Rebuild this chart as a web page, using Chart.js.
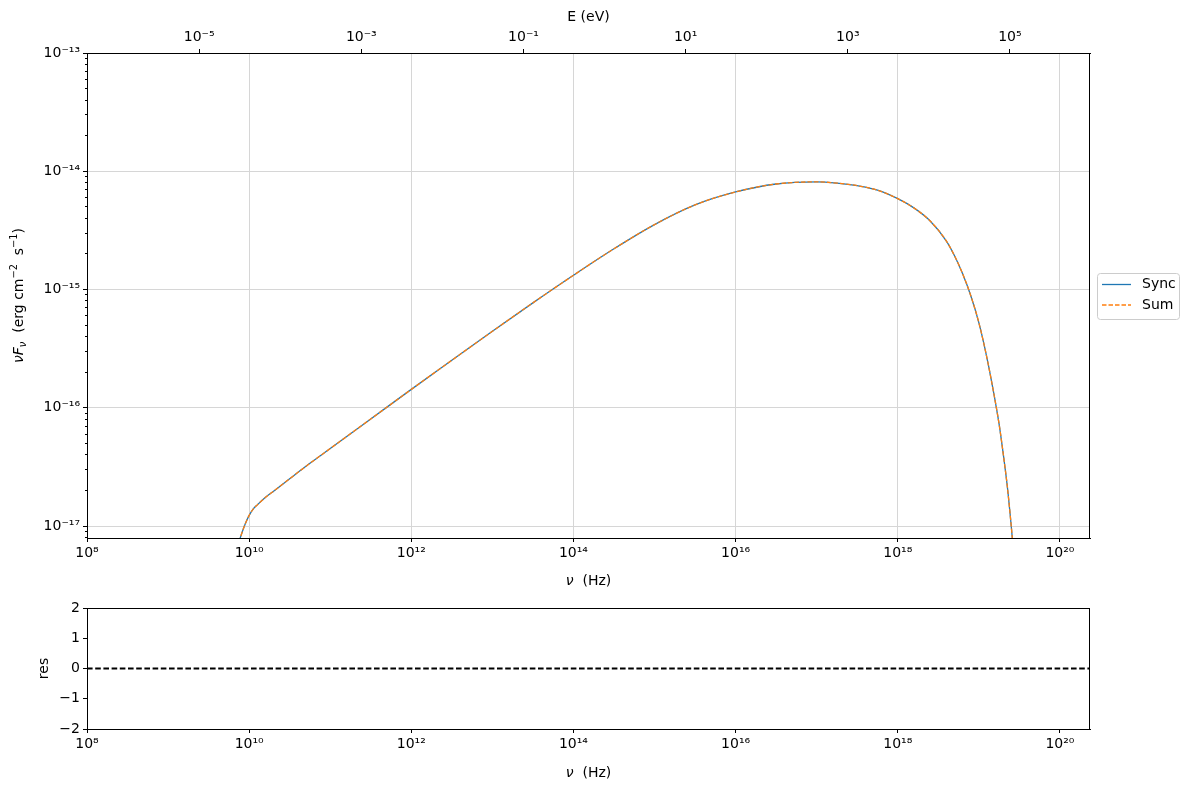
<!DOCTYPE html>
<html>
<head>
<meta charset="utf-8">
<script src="https://cdn.jsdelivr.net/npm/chart.js@4.4.1/dist/chart.umd.min.js"></script>
<style>
html,body{margin:0;padding:0;background:#fff;width:1189px;height:789px;overflow:hidden}
#main{position:absolute;left:0;top:0}
#res{position:absolute;left:0;top:590px}
</style>
</head>
<body>
<canvas id="main" width="1189" height="600"></canvas>
<canvas id="res" width="1189" height="199"></canvas>
<script>
// frequency grid (Hz)
const nu=[7.08e9,7.94e9,8.91e9,1.0e10,1.12e10,1.26e10,1.58e10,2.0e10,3.16e10,5.62e10,1e11,3.16e11,1e12,3.16e12,1e13,3.16e13,1e14,3.16e14,1e15,3.16e15,1e16,3.16e16,1e17,1.78e17,3.16e17,5.62e17,1e18,1.58e18,2.51e18,3.98e18,5.01e18,6.31e18,7.94e18,1e19,1.26e19,1.58e19,1.78e19,2.0e19,2.24e19,2.51e19,2.82e19]
// nuFnu (erg cm-2 s-1)
const syncFlux=[6.46e-18,8.32e-18,1.035e-17,1.23e-17,1.39e-17,1.51e-17,1.74e-17,1.97e-17,2.51e-17,3.39e-17,4.52e-17,8.04e-17,1.43e-16,2.52e-16,4.43e-16,7.71e-16,1.32e-15,2.21e-15,3.54e-15,5.19e-15,6.68e-15,7.80e-15,8.13e-15,7.94e-15,7.55e-15,6.92e-15,5.86e-15,4.90e-15,3.80e-15,2.57e-15,1.93e-15,1.36e-15,8.91e-16,5.25e-16,2.63e-16,1.17e-16,7.24e-17,4.07e-17,2.19e-17,1.0e-17,3.98e-18]
const sumFlux=[6.46e-18,8.32e-18,1.035e-17,1.23e-17,1.39e-17,1.51e-17,1.74e-17,1.97e-17,2.51e-17,3.39e-17,4.52e-17,8.04e-17,1.43e-16,2.52e-16,4.43e-16,7.71e-16,1.32e-15,2.21e-15,3.54e-15,5.19e-15,6.68e-15,7.80e-15,8.13e-15,7.94e-15,7.55e-15,6.92e-15,5.86e-15,4.90e-15,3.80e-15,2.57e-15,1.93e-15,1.36e-15,8.91e-16,5.25e-16,2.63e-16,1.17e-16,7.24e-17,4.07e-17,2.19e-17,1.0e-17,3.98e-18]
// residuals
const resNu=[1e8,2.35e20]
const resVal=[0,0]
// ticks
const nuTicks=[1e8,1e10,1e12,1e14,1e16,1e18,1e20]
const eTicks=[1e-5,1e-3,1e-1,1e1,1e3,1e5]
const fluxTicks=[1e-17,1e-16,1e-15,1e-14,1e-13]
const fluxMinor=[8e-18,9e-18,2e-17,3e-17,4e-17,5e-17,6e-17,7e-17,8e-17,9e-17,2e-16,3e-16,4e-16,5e-16,6e-16,7e-16,8e-16,9e-16,2e-15,3e-15,4e-15,5e-15,6e-15,7e-15,8e-15,9e-15,2e-14,3e-14,4e-14,5e-14,6e-14,7e-14,8e-14,9e-14]
const resTicks=[-2,-1,0,1,2]

const NU_MIN=1e8,NU_MAX=2.35e20,F_MIN=7.92e-18,F_MAX=1e-13
const H_EV=4.135667e-15
const FONT="DejaVu Sans"
const GRID="#d6d6d6"

const SUP={"0":"⁰","1":"¹","2":"²","3":"³","4":"⁴","5":"⁵","6":"⁶","7":"⁷","8":"⁸","9":"⁹","-":"⁻"}
const pow10=v=>"10"+String(Math.round(Math.log10(v))).split("").map(c=>SUP[c]).join("")
const tickFont={family:FONT,size:14}

// draw text with sub/superscripts
function rich(ctx,parts,x,y,size,rot){
  ctx.save()
  ctx.translate(x,y)
  if(rot)ctx.rotate(rot)
  ctx.textBaseline="alphabetic"
  let w=0
  parts.forEach(p=>{
    const s=p.s?size*0.7:size
    ctx.font=(p.i?"italic ":"")+s+"px '"+FONT+"'"
    p.w=ctx.measureText(p.t).width
    w+=p.w
  })
  let cx=-w/2
  parts.forEach(p=>{
    const s=p.s?size*0.7:size
    ctx.font=(p.i?"italic ":"")+s+"px '"+FONT+"'"
    const dy=p.s==="sup"?-size*0.42:p.s==="sub"?size*0.22:0
    ctx.fillStyle="#000"
    ctx.fillText(p.t,cx,size*0.36+dy)
    cx+=p.w
  })
  ctx.restore()
}

const frame={
  id:"frame",
  afterDraw(c){
    const a=c.chartArea,ctx=c.ctx
    ctx.save()
    ctx.strokeStyle="#000"
    ctx.lineWidth=1
    ctx.strokeRect(Math.round(a.left)+0.5,Math.round(a.top)+0.5,Math.round(a.right-a.left)-1,Math.round(a.bottom-a.top))
    ctx.restore()
  }
}

const mainLabels={
  id:"mainLabels",
  afterDraw(c){
    const ctx=c.ctx,a=c.chartArea,mid=(a.left+a.right)/2
    rich(ctx,[{t:"ν",i:1},{t:"  (Hz)"}],mid,580,14)
    rich(ctx,[{t:"E (eV)"}],mid,16,14)
    rich(ctx,[{t:"ν",i:1},{t:"F",i:1},{t:"ν",i:1,s:"sub"},{t:"  (erg cm"},{t:"−2",s:"sup"},{t:"  s"},{t:"−1",s:"sup"},{t:")"}],18,(a.top+a.bottom)/2,14,-Math.PI/2)
    // legend
    ctx.save()
    ctx.fillStyle="rgba(255,255,255,0.8)"
    ctx.strokeStyle="#cccccc"
    ctx.lineWidth=1
    ctx.beginPath()
    ctx.roundRect(1097.5,273.5,82,46,3)
    ctx.fill();ctx.stroke()
    const items=[{t:"Sync",c:"#1f77b4",d:[]},{t:"Sum",c:"#ff7f0e",d:[4.5,2]}]
    items.forEach((it,i)=>{
      const y=284.5+i*20.5
      ctx.strokeStyle=it.c
      ctx.lineWidth=1.3
      ctx.setLineDash(it.d)
      ctx.beginPath();ctx.moveTo(1102,y);ctx.lineTo(1131,y);ctx.stroke()
      ctx.setLineDash([])
      ctx.fillStyle="#000"
      ctx.font="14px '"+FONT+"'"
      ctx.textBaseline="middle"
      ctx.fillText(it.t,1142,y)
    })
    ctx.restore()
  }
}

const resLabels={
  id:"resLabels",
  afterDraw(c){
    const ctx=c.ctx,a=c.chartArea
    rich(ctx,[{t:"ν",i:1},{t:"  (Hz)"}],(a.left+a.right)/2,182,14)
    rich(ctx,[{t:"res"}],43,(a.top+a.bottom)/2,14,-Math.PI/2)
  }
}

const pts=(xs,ys)=>xs.map((x,i)=>({x:x,y:ys[i]}))

new Chart(document.getElementById("main"),{
  type:"line",
  data:{datasets:[
    {label:"Sync",data:pts(nu,syncFlux),order:1,borderColor:"#1f77b4",borderWidth:1.3,pointRadius:0,cubicInterpolationMode:"monotone",xAxisID:"x",yAxisID:"y"},
    {label:"Sum",data:pts(nu,sumFlux),order:0,borderColor:"#ff7f0e",borderWidth:1.3,borderDash:[4.5,2],pointRadius:0,cubicInterpolationMode:"monotone",xAxisID:"x",yAxisID:"y"}
  ]},
  options:{
    responsive:false,animation:false,
    layout:{padding:{left:0,right:99,top:0,bottom:0},autoPadding:false},
    plugins:{legend:{display:false},tooltip:{enabled:false}},
    scales:{
      x:{type:"logarithmic",position:"bottom",min:NU_MIN,max:NU_MAX,
        afterFit:s=>{s.height=62},
        afterBuildTicks:s=>{s.ticks=nuTicks.map(v=>({value:v}))},
        ticks:{callback:v=>pow10(v),autoSkip:false,maxRotation:0,color:"#000",font:tickFont,padding:3},
        grid:{color:GRID,tickColor:"#000",tickLength:4},border:{color:"#000"}},
      x2:{type:"logarithmic",position:"top",min:NU_MIN*H_EV,max:NU_MAX*H_EV,
        afterFit:s=>{s.height=53},
        afterBuildTicks:s=>{s.ticks=eTicks.map(v=>({value:v}))},
        ticks:{callback:v=>pow10(v),autoSkip:false,maxRotation:0,color:"#000",font:tickFont,padding:3},
        grid:{drawOnChartArea:false,tickColor:"#000",tickLength:4},border:{color:"#000"}},
      y:{type:"logarithmic",position:"left",weight:1,min:F_MIN,max:F_MAX,
        afterFit:s=>{s.width=87},
        afterBuildTicks:s=>{s.ticks=fluxTicks.map(v=>({value:v}))},
        ticks:{callback:v=>pow10(v),autoSkip:false,color:"#000",font:tickFont,padding:3},
        grid:{color:GRID,tickColor:"#000",tickLength:4},border:{color:"#000"}},
      yMinor:{type:"logarithmic",position:"left",weight:0,min:F_MIN,max:F_MAX,
        afterFit:s=>{s.width=0},
        afterBuildTicks:s=>{s.ticks=fluxMinor.map(v=>({value:v}))},
        ticks:{display:false,autoSkip:false},
        grid:{drawOnChartArea:false,tickColor:"#000",tickLength:2},border:{display:false}}
    }
  },
  plugins:[frame,mainLabels]
})

new Chart(document.getElementById("res"),{
  type:"line",
  data:{datasets:[
    {label:"res",data:pts(resNu,resVal),borderColor:"#000",borderWidth:1.8,borderDash:[5.6,2.6],pointRadius:0}
  ]},
  options:{
    responsive:false,animation:false,
    layout:{padding:{left:0,right:99,top:18,bottom:0},autoPadding:false},
    plugins:{legend:{display:false},tooltip:{enabled:false}},
    scales:{
      x:{type:"logarithmic",position:"bottom",min:NU_MIN,max:NU_MAX,
        afterFit:s=>{s.height=60},
        afterBuildTicks:s=>{s.ticks=nuTicks.map(v=>({value:v}))},
        ticks:{callback:v=>pow10(v),autoSkip:false,maxRotation:0,color:"#000",font:tickFont,padding:3},
        grid:{drawOnChartArea:false,tickColor:"#000",tickLength:4},border:{color:"#000"}},
      y:{type:"linear",position:"left",min:-2,max:2,
        afterFit:s=>{s.width=87},
        afterBuildTicks:s=>{s.ticks=resTicks.map(v=>({value:v}))},
        ticks:{callback:v=>String(v).replace("-","−"),color:"#000",font:tickFont,padding:3},
        grid:{drawOnChartArea:false,tickColor:"#000",tickLength:4},border:{color:"#000"}}
    }
  },
  plugins:[frame,resLabels]
})
</script>
</body>
</html>
